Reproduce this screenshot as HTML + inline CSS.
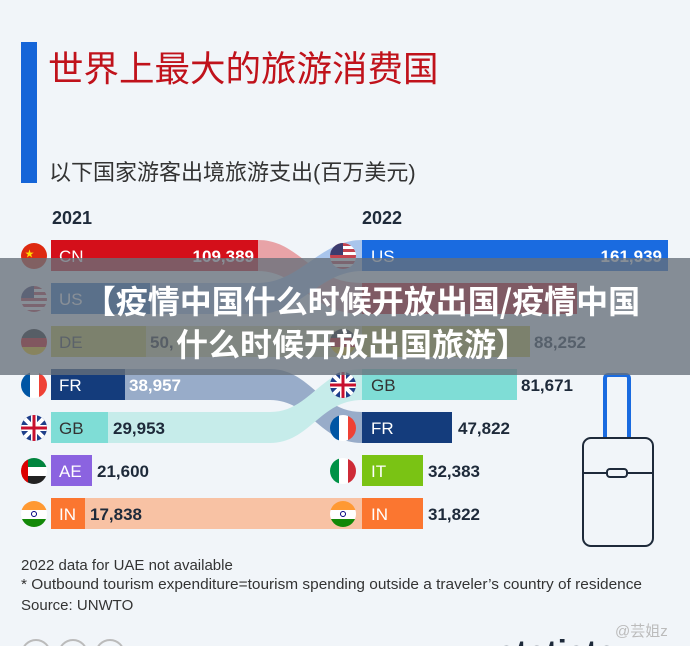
<!DOCTYPE html>
<html><head><meta charset="utf-8"><style>
body{margin:0;width:690px;height:646px;overflow:hidden;background:#f1f5f9;font-family:"Liberation Sans","Noto Sans CJK SC",sans-serif;}
</style></head><body>
<svg width="690" height="646" xmlns="http://www.w3.org/2000/svg" style="position:absolute;left:0;top:0">
<defs>
<clipPath id="cl"><circle cx="0" cy="0" r="13"/></clipPath>
</defs>
<rect width="690" height="646" fill="#f1f5f9"/>
<rect x="21" y="42" width="16" height="141" fill="#1565d8"/>
<text x="48" y="81" font-size="35.5" fill="#c0121b" font-family="Liberation Sans,Noto Sans CJK SC,sans-serif">世界上最大的旅游消费国</text>
<text x="49" y="180" font-size="22" fill="#333" font-family="Liberation Sans,Noto Sans CJK SC,sans-serif">以下国家游客出境旅游支出(百万美元)</text>
<text x="52" y="224" font-size="18" font-weight="bold" fill="#1e2a3a">2021</text>
<text x="362" y="224" font-size="18" font-weight="bold" fill="#1e2a3a">2022</text>
<!-- ribbons -->
<path d="M258,240 C300,240 310,283 362,283 L362,314 C310,314 300,271 258,271Z" fill="#e8a3a7"/>
<path d="M150,283 L258,283 C300,283 320,240 362,240 L362,271 C320,271 300,314 258,314 L150,314Z" fill="#a9c5ec"/>
<path d="M140,326 L362,326 L362,357 L140,357Z" fill="#d8d49a"/>
<path d="M125,369 L270,369 C310,369 320,412 362,412 L362,443 C320,443 310,400 270,400 L125,400Z" fill="#98acc9"/>
<path d="M108,412 L270,412 C310,412 320,369 362,369 L362,400 C320,400 310,443 270,443 L108,443Z" fill="#c6ecea"/>
<rect x="85" y="498" width="277" height="31" fill="#f8c2a4"/>
<!-- left bars -->
<rect x="51" y="240" width="207" height="31" fill="#d40f1a"/>
<rect x="51" y="283" width="99" height="31" fill="#2e72c4"/>
<rect x="51" y="326" width="95" height="31" fill="#c9c043"/>
<rect x="51" y="369" width="74" height="31" fill="#143c7c"/>
<rect x="51" y="412" width="57" height="31" fill="#7fddd6"/>
<rect x="51" y="455" width="41" height="31" fill="#8b63e0"/>
<rect x="51" y="498" width="34" height="31" fill="#fb7630"/>
<g font-size="17" fill="#fff">
<text x="59" y="262">CN</text><text x="59" y="305">US</text><text x="59" y="348" fill="#333">DE</text>
<text x="59" y="391">FR</text><text x="59" y="434" fill="#333">GB</text><text x="59" y="477">AE</text><text x="59" y="520">IN</text>
</g>
<g font-size="17" font-weight="bold">
<text x="254" y="262" fill="#fff" text-anchor="end">109,389</text>
<text x="150" y="348" fill="#222">50,</text>
<text x="129" y="391" fill="#fff">38,957</text>
<text x="113" y="434" fill="#1e2a3a">29,953</text>
<text x="97" y="477" fill="#1e2a3a">21,600</text>
<text x="90" y="520" fill="#1e2a3a">17,838</text>
</g>
<!-- right bars -->
<rect x="362" y="240" width="306" height="31" fill="#1a6be0"/>
<rect x="362" y="283" width="215" height="31" fill="#d40f1a"/>
<rect x="362" y="326" width="168" height="31" fill="#c9c043"/>
<rect x="362" y="369" width="155" height="31" fill="#7fddd6"/>
<rect x="362" y="412" width="90" height="31" fill="#143c7c"/>
<rect x="362" y="455" width="61" height="31" fill="#7ac314"/>
<rect x="362" y="498" width="61" height="31" fill="#fb7630"/>
<g font-size="17" fill="#fff">
<text x="371" y="262">US</text><text x="371" y="391" fill="#333">GB</text><text x="371" y="434">FR</text>
<text x="371" y="477">IT</text><text x="371" y="520">IN</text>
</g>
<g font-size="17" font-weight="bold" fill="#1e2a3a">
<text x="662" y="262" fill="#fff" text-anchor="end">161,939</text>
<text x="534" y="348">88,252</text>
<text x="521" y="391">81,671</text>
<text x="458" y="434">47,822</text>
<text x="428" y="477">32,383</text>
<text x="428" y="520">31,822</text>
</g>
<g transform="translate(34,256)" clip-path="url(#cl)"><rect x="-13" y="-13" width="26" height="26" fill="#de2910"/><text x="-9" y="1" font-size="9" fill="#ffde00">★</text></g>
<g transform="translate(34,299)" clip-path="url(#cl)"><rect x="-13" y="-13" width="26" height="26" fill="#fff"/><rect x="-13" y="-13" width="26" height="3" fill="#c4434f"/><rect x="-13" y="-7" width="26" height="3" fill="#c4434f"/><rect x="-13" y="-1" width="26" height="3" fill="#c4434f"/><rect x="-13" y="5" width="26" height="3" fill="#c4434f"/><rect x="-13" y="11" width="26" height="3" fill="#c4434f"/><rect x="-13" y="-13" width="13" height="12" fill="#3c3b6e"/></g>
<g transform="translate(34,342)" clip-path="url(#cl)"><rect x="-13" y="-13" width="26" height="9" fill="#222"/><rect x="-13" y="-4" width="26" height="9" fill="#dd0000"/><rect x="-13" y="5" width="26" height="9" fill="#ffce00"/></g>
<g transform="translate(34,385)" clip-path="url(#cl)"><rect x="-13" y="-13" width="9" height="26" fill="#0055a4"/><rect x="-4" y="-13" width="9" height="26" fill="#fff"/><rect x="5" y="-13" width="9" height="26" fill="#ef4135"/></g>
<g transform="translate(34,428)" clip-path="url(#cl)"><rect x="-13" y="-13" width="26" height="26" fill="#1f3f8a"/><path d="M-13,-13 L13,13 M13,-13 L-13,13" stroke="#fff" stroke-width="4"/><rect x="-13" y="-3" width="26" height="6" fill="#fff"/><rect x="-3" y="-13" width="6" height="26" fill="#fff"/><rect x="-13" y="-1.5" width="26" height="3" fill="#c8102e"/><rect x="-1.5" y="-13" width="3" height="26" fill="#c8102e"/></g>
<g transform="translate(34,471)" clip-path="url(#cl)"><rect x="-13" y="-13" width="26" height="9" fill="#00843d"/><rect x="-13" y="-4" width="26" height="9" fill="#fff"/><rect x="-13" y="5" width="26" height="9" fill="#222"/><rect x="-13" y="-13" width="7" height="26" fill="#d00"/></g>
<g transform="translate(34,514)" clip-path="url(#cl)"><rect x="-13" y="-13" width="26" height="9" fill="#ff9933"/><rect x="-13" y="-4" width="26" height="9" fill="#fff"/><rect x="-13" y="5" width="26" height="9" fill="#138808"/><circle r="2.5" fill="none" stroke="#000080" stroke-width="1"/></g>
<g transform="translate(343,256)" clip-path="url(#cl)"><rect x="-13" y="-13" width="26" height="26" fill="#fff"/><rect x="-13" y="-13" width="26" height="3" fill="#c4434f"/><rect x="-13" y="-7" width="26" height="3" fill="#c4434f"/><rect x="-13" y="-1" width="26" height="3" fill="#c4434f"/><rect x="-13" y="5" width="26" height="3" fill="#c4434f"/><rect x="-13" y="11" width="26" height="3" fill="#c4434f"/><rect x="-13" y="-13" width="13" height="12" fill="#3c3b6e"/></g>
<g transform="translate(343,342)" clip-path="url(#cl)"><rect x="-13" y="-13" width="26" height="9" fill="#222"/><rect x="-13" y="-4" width="26" height="9" fill="#dd0000"/><rect x="-13" y="5" width="26" height="9" fill="#ffce00"/></g>
<g transform="translate(343,385)" clip-path="url(#cl)"><rect x="-13" y="-13" width="26" height="26" fill="#1f3f8a"/><path d="M-13,-13 L13,13 M13,-13 L-13,13" stroke="#fff" stroke-width="4"/><rect x="-13" y="-3" width="26" height="6" fill="#fff"/><rect x="-3" y="-13" width="6" height="26" fill="#fff"/><rect x="-13" y="-1.5" width="26" height="3" fill="#c8102e"/><rect x="-1.5" y="-13" width="3" height="26" fill="#c8102e"/></g>
<g transform="translate(343,428)" clip-path="url(#cl)"><rect x="-13" y="-13" width="9" height="26" fill="#0055a4"/><rect x="-4" y="-13" width="9" height="26" fill="#fff"/><rect x="5" y="-13" width="9" height="26" fill="#ef4135"/></g>
<g transform="translate(343,471)" clip-path="url(#cl)"><rect x="-13" y="-13" width="9" height="26" fill="#009246"/><rect x="-4" y="-13" width="9" height="26" fill="#fff"/><rect x="5" y="-13" width="9" height="26" fill="#ce2b37"/></g>
<g transform="translate(343,514)" clip-path="url(#cl)"><rect x="-13" y="-13" width="26" height="9" fill="#ff9933"/><rect x="-13" y="-4" width="26" height="9" fill="#fff"/><rect x="-13" y="5" width="26" height="9" fill="#138808"/><circle r="2.5" fill="none" stroke="#000080" stroke-width="1"/></g>
<rect x="605" y="375" width="24" height="80" rx="3" fill="none" stroke="#1a6be0" stroke-width="4"/>
<rect x="583" y="438" width="70" height="108" rx="8" fill="#f1f5f9" stroke="#1e2a3a" stroke-width="2"/>
<line x1="583" y1="473" x2="653" y2="473" stroke="#1e2a3a" stroke-width="2"/>
<rect x="607" y="469" width="20" height="8" rx="3" fill="#f1f5f9" stroke="#1e2a3a" stroke-width="2"/>
<rect x="0" y="258" width="690" height="117" fill="#66707a" fill-opacity="0.78"/>
<g font-size="32" font-weight="bold" fill="#fff" text-anchor="middle" font-family="Noto Sans CJK SC,sans-serif">
<text x="362" y="313">【疫情中国什么时候开放出国/疫情中国</text>
<text x="352" y="356">什么时候开放出国旅游】</text>
</g>
<g font-size="15" fill="#333">
<text x="21" y="570">2022 data for UAE not available</text>
<text x="21" y="589" textLength="621" lengthAdjust="spacingAndGlyphs">* Outbound tourism expenditure=tourism spending outside a traveler’s country of residence</text>
<text x="21" y="610">Source: UNWTO</text>
</g>
<circle cx="36" cy="654" r="14" fill="none" stroke="#bbb" stroke-width="2"/>
<circle cx="73" cy="654" r="14" fill="none" stroke="#bbb" stroke-width="2"/>
<circle cx="110" cy="654" r="14" fill="none" stroke="#bbb" stroke-width="2"/>
<text x="497" y="664" font-size="34" font-weight="bold" fill="#1e2a3a">statista</text>
<text x="615" y="636" font-size="15" fill="#bbb" font-family="Liberation Sans,Noto Sans CJK SC,sans-serif">@芸姐z</text>
</svg>
</body></html>
